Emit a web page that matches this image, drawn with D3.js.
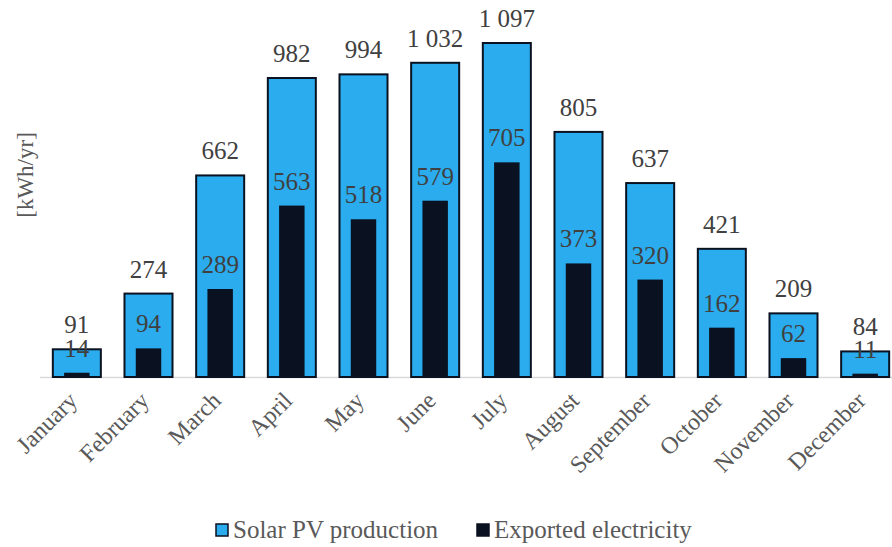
<!DOCTYPE html>
<html>
<head>
<meta charset="utf-8">
<script src="https://cdn.jsdelivr.net/npm/d3@7"></script>
<style>
  html, body { margin: 0; padding: 0; background: #fff; }
  svg { display: block; }
  text { font-family: "Liberation Serif", "Times New Roman", serif; }
</style>
</head>
<body>
<svg id="chart" width="892" height="547"></svg>
<script>
const months = ["January", "February", "March", "April", "May", "June",
                "July", "August", "September", "October", "November", "December"];
const production = [91, 274, 662, 982, 994, 1032, 1097, 805, 637, 421, 209, 84];
const exported = [14, 94, 289, 563, 518, 579, 705, 373, 320, 162, 62, 11];
const seriesNames = ["Solar PV production", "Exported electricity"];

const blue = "#2AACEE";
const dark = "#0A1120";
const textColor = "#595959";
const valueColor = "#404040";

const svg = d3.select("#chart");
const baseY = 377;

const x = d3.scaleBand().domain(months).range([41, 901]).paddingInner(0.33).paddingOuter(0.165);
const y = d3.scaleLinear().domain([0, 1097]).range([baseY, 43]);

const fmt = v => d3.format(",")(v).replace(/,/g, " ");

// baseline
svg.append("line")
  .attr("x1", 40).attr("x2", 892)
  .attr("y1", baseY + 0.5).attr("y2", baseY + 0.5)
  .attr("stroke", "#d9d9d9").attr("stroke-width", 1.5);

// production bars
svg.append("g").selectAll("rect").data(months).join("rect")
  .attr("x", d => x(d))
  .attr("width", x.bandwidth())
  .attr("y", (d, i) => y(production[i]))
  .attr("height", (d, i) => baseY - y(production[i]))
  .attr("fill", blue)
  .attr("stroke", dark)
  .attr("stroke-width", 2);

// exported bars (narrower, overlaid)
const innerW = x.bandwidth() * 0.53;
svg.append("g").selectAll("rect").data(months).join("rect")
  .attr("x", d => x(d) + (x.bandwidth() - innerW) / 2)
  .attr("width", innerW)
  .attr("y", (d, i) => y(exported[i]))
  .attr("height", (d, i) => baseY - y(exported[i]))
  .attr("fill", dark);

// value labels
const labelFont = 25;
const labelGap = 16;
svg.append("g").selectAll("text").data(months).join("text")
  .attr("x", d => x(d) + x.bandwidth() / 2)
  .attr("y", (d, i) => y(production[i]) - labelGap)
  .attr("text-anchor", "middle")
  .attr("font-size", labelFont)
  .attr("fill", valueColor)
  .text((d, i) => fmt(production[i]));

svg.append("g").selectAll("text").data(months).join("text")
  .attr("x", d => x(d) + x.bandwidth() / 2)
  .attr("y", (d, i) => y(exported[i]) - labelGap)
  .attr("text-anchor", "middle")
  .attr("font-size", labelFont)
  .attr("fill", valueColor)
  .text((d, i) => fmt(exported[i]));

// month labels
const xAxis = d3.axisBottom(x).tickSize(0).tickPadding(0);
const gx = svg.append("g").attr("transform", `translate(0,${baseY})`).call(xAxis);
gx.select(".domain").remove();
gx.selectAll("text")
  .attr("font-family", "Liberation Serif, Times New Roman, serif")
  .attr("font-size", 24)
  .attr("fill", textColor)
  .attr("text-anchor", "end")
  .attr("y", 0)
  .attr("dy", 0)
  .attr("transform", "translate(2,25) rotate(-45)");

// y-axis title
svg.append("text")
  .attr("transform", "translate(33,175) rotate(-90)")
  .attr("text-anchor", "middle")
  .attr("font-size", 23)
  .attr("fill", textColor)
  .text("[kWh/yr]");

// legend
const legend = svg.append("g");
const items = [
  { name: seriesNames[0], fill: blue, x: 216 },
  { name: seriesNames[1], fill: dark, x: 477 }
];
items.forEach(it => {
  legend.append("rect")
    .attr("x", it.x).attr("y", 524)
    .attr("width", 12).attr("height", 12)
    .attr("fill", it.fill)
    .attr("stroke", dark).attr("stroke-width", 1.5);
  legend.append("text")
    .attr("x", it.x + 17).attr("y", 538)
    .attr("font-size", 25)
    .attr("fill", textColor)
    .text(it.name);
});
</script>
</body>
</html>
